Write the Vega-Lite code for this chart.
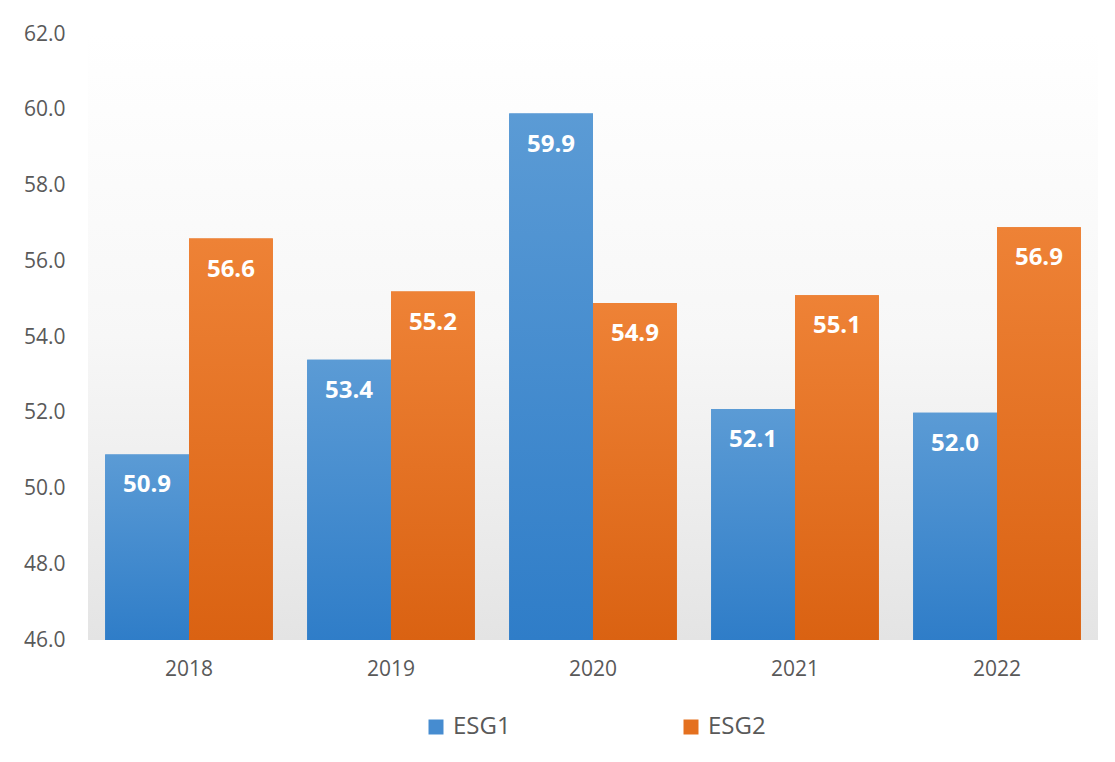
{
  "$schema": "https://vega.github.io/schema/vega-lite/v6.json",
  "width": 1010,
  "height": 606,
  "autosize": {"type": "none"},
  "padding": {"left": 88, "top": 34, "right": 17, "bottom": 122},
  "background": "#ffffff",
  "config": {
    "view": {"stroke": null, "fill": {"gradient": "linear", "x1": 0, "y1": 0, "x2": 0, "y2": 1, "stops": [{"offset": 0, "color": "#ffffff"}, {"offset": 0.5, "color": "#f7f7f7"}, {"offset": 1, "color": "#e4e4e4"}]}},
    "font": "Open Sans"
  },
  "data": {
    "values": [
      {"year": "2018", "series": "ESG1", "value": 50.9},
      {"year": "2018", "series": "ESG2", "value": 56.6},
      {"year": "2019", "series": "ESG1", "value": 53.4},
      {"year": "2019", "series": "ESG2", "value": 55.2},
      {"year": "2020", "series": "ESG1", "value": 59.9},
      {"year": "2020", "series": "ESG2", "value": 54.9},
      {"year": "2021", "series": "ESG1", "value": 52.1},
      {"year": "2021", "series": "ESG2", "value": 55.1},
      {"year": "2022", "series": "ESG1", "value": 52.0},
      {"year": "2022", "series": "ESG2", "value": 56.9}
    ]
  },
  "encoding": {
    "x": {
      "field": "year", "type": "nominal",
      "scale": {"paddingInner": 0.17, "paddingOuter": 0.085},
      "axis": {"title": null, "labelAngle": 0, "domain": false, "ticks": false, "labelFontSize": 21, "labelColor": "#595959", "labelPadding": 18}
    },
    "xOffset": {"field": "series", "type": "nominal", "scale": {"domain": ["ESG1", "ESG2"]}},
    "y": {
      "field": "value", "type": "quantitative",
      "scale": {"domain": [46, 62], "zero": false, "nice": false},
      "axis": {"title": null, "values": [46, 48, 50, 52, 54, 56, 58, 60, 62], "format": ".1f", "domain": false, "ticks": false, "grid": false, "labelFontSize": 21, "labelColor": "#595959", "labelPadding": 23}
    }
  },
  "layer": [
    {
      "mark": {"type": "bar"},
      "encoding": {
        "y2": {"datum": 46},
        "color": {
          "field": "series", "type": "nominal",
          "scale": {"domain": ["ESG1", "ESG2"], "range": ["#468CD0", "#E4701F"]},
          "legend": {
            "title": null, "orient": "none", "direction": "horizontal",
            "legendX": 336, "legendY": 681,
            "symbolType": "square", "symbolSize": 225, "symbolStrokeWidth": 0,
            "labelFontSize": 24, "labelColor": "#595959", "columnPadding": 168, "labelOffset": 5
          }
        }
      }
    },
    {
      "transform": [{"filter": "datum.series === 'ESG1'"}],
      "mark": {"type": "bar", "color": {"gradient": "linear", "x1": 0, "y1": 0, "x2": 0, "y2": 1, "stops": [{"offset": 0, "color": "#5B9BD5"}, {"offset": 1, "color": "#2F7DC8"}]}},
      "encoding": {"y2": {"datum": 46}}
    },
    {
      "transform": [{"filter": "datum.series === 'ESG2'"}],
      "mark": {"type": "bar", "color": {"gradient": "linear", "x1": 0, "y1": 0, "x2": 0, "y2": 1, "stops": [{"offset": 0, "color": "#EE8236"}, {"offset": 1, "color": "#DA6212"}]}},
      "encoding": {"y2": {"datum": 46}}
    },
    {
      "mark": {"type": "text", "baseline": "alphabetic", "dy": 38, "fontWeight": "bold", "fontSize": 24, "color": "#ffffff"},
      "encoding": {
        "text": {"field": "value", "type": "quantitative", "format": ".1f"}
      }
    }
  ]
}
